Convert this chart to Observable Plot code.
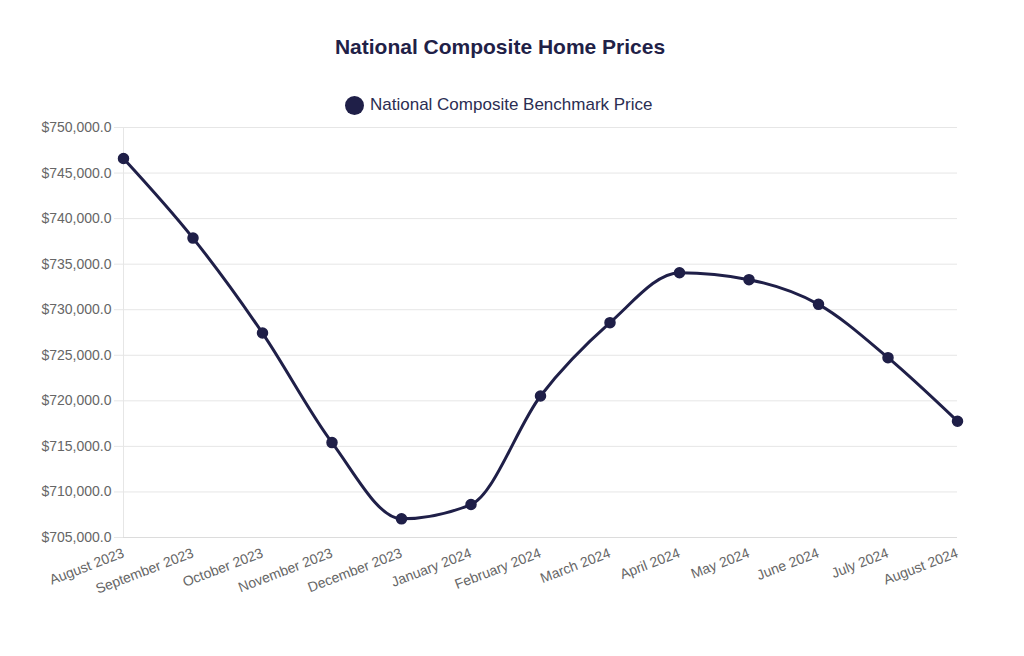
<!DOCTYPE html>
<html>
<head>
<meta charset="utf-8">
<script src="https://cdn.jsdelivr.net/npm/d3@7"></script>
<script src="https://cdn.jsdelivr.net/npm/@observablehq/plot@0.6"></script>
<style>
  html, body { margin: 0; padding: 0; background: #fff; width: 1024px; height: 656px; overflow: hidden; font-family: "Liberation Sans", Arial, sans-serif; }
  #title { position: absolute; left: 0; width: 1000px; top: 35px; text-align: center; font-size: 21px; font-weight: bold; color: #1f2147; }
  #legend { position: absolute; left: 345px; top: 95px; display: flex; align-items: center; font-size: 17px; color: #2b2d52; }
  #legend .sw { width: 19px; height: 19px; border-radius: 50%; background: #1f1f48; margin-right: 6px; }
  #chart { position: absolute; left: 0; top: 115px; }
</style>
</head>
<body>
<div id="title">National Composite Home Prices</div>
<div id="legend"><span class="sw"></span><span>National Composite Benchmark Price</span></div>
<div id="chart"></div>
<script>
const months = ["August 2023","September 2023","October 2023","November 2023","December 2023","January 2024","February 2024","March 2024","April 2024","May 2024","June 2024","July 2024","August 2024"];
const prices = [746600, 737860, 727440, 715420, 707050, 708620, 720530, 728580, 734060, 733300, 730590, 724740, 717760];
const yTicks = [705000, 710000, 715000, 720000, 725000, 730000, 735000, 740000, 745000, 750000];

const data = months.map((m, i) => ({month: m, price: prices[i]}));
const fmt = v => "$" + d3.format(",.1f")(v);
const navy = "#1f1f48";

const chart = Plot.plot({
  width: 1024,
  height: 541,
  marginLeft: 123,
  marginRight: 67,
  marginTop: 12,
  marginBottom: 119,
  style: {fontFamily: "'Liberation Sans', Arial, sans-serif", fontSize: "14px", color: "#666", background: "#fff"},
  x: {type: "point", domain: months, padding: 0, round: false, label: null},
  y: {domain: [705000, 750000], label: null},
  marks: [
    Plot.gridY(yTicks, {stroke: "#e6e6e6", strokeOpacity: 1}),
    Plot.ruleX([months[0]], {stroke: "#e6e6e6"}),
    Plot.ruleY([705000], {stroke: "#dcdcdc"}),
    Plot.axisY({ticks: yTicks, tickFormat: fmt, tickSize: 9, tickPadding: 3, stroke: "#e6e6e6", fill: "#666", fontSize: 14, label: null}),
    Plot.axisX({tickRotate: -21, tickSize: 0, tickPadding: 15, fill: "#666", fontSize: 14, label: null}),
    Plot.line(data, {x: "month", y: "price", curve: "monotone-x", stroke: navy, strokeWidth: 3}),
    Plot.dot(data, {x: "month", y: "price", r: 5, fill: navy, stroke: navy})
  ]
});
document.getElementById("chart").appendChild(chart);
</script>
</body>
</html>
